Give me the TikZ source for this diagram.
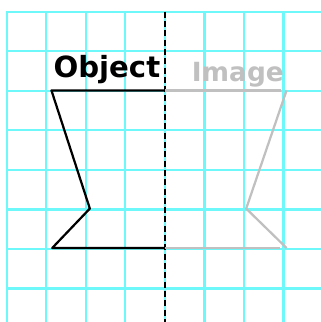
\documentclass[tikz,border=0pt]{standalone}
\usepackage{fontspec}
\newfontfamily\labelfont{DejaVu Sans}
\definecolor{gridcyan}{RGB}{110,248,250}
\definecolor{mirrorgray}{RGB}{192,192,192}
\begin{document}
\begin{tikzpicture}[
            x=39.6pt/1.39,y=39.4pt/1.39,
            every node/.style={
                inner sep=0pt,font=\labelfont\bfseries
            },
            shape line/.style={line width=1.6pt,line join=round},
        ]
    % Frame
        \useasboundingbox (-0.17,-7.88) rectangle (7.94,0.297);
        \fill[white] (-0.17,-7.88) rectangle (7.94,0.297);
    % Grid
        \draw[gridcyan,line width=1.7pt] (0,-7.88) grid (7.94,0);
        \draw[gridcyan,line width=1.7pt] (0,-7.88) -- (0,0) -- (7.94,0);
    % Mirror line
        \draw[black,line width=1.3pt,dash pattern=on 4.3pt off 2.4pt] (4,0) -- (4,-7.88);
    % Object
        \draw[shape line,black] (4,-2) -- (1.13,-2) -- (2.1,-5) -- (1.15,-6) -- (4,-6);
    % Image
        \draw[shape line,mirrorgray] (4,-2) -- (6.93,-2);
        \draw[shape line,mirrorgray] (7.07,-2) -- (6.05,-5) -- (7.07,-6);
        \draw[shape line,mirrorgray] (4,-6) -- (6.9,-6);
    % Labels
        \node[anchor=base,black,font=\labelfont\bfseries\fontsize{21}{21}\selectfont] (object) at (2.53,-1.665) {Object};
        \node[anchor=base,mirrorgray,font=\labelfont\bfseries\fontsize{19}{19}\selectfont] (image) at (5.84,-1.78) {Image};
    \end{tikzpicture}
\end{document}
